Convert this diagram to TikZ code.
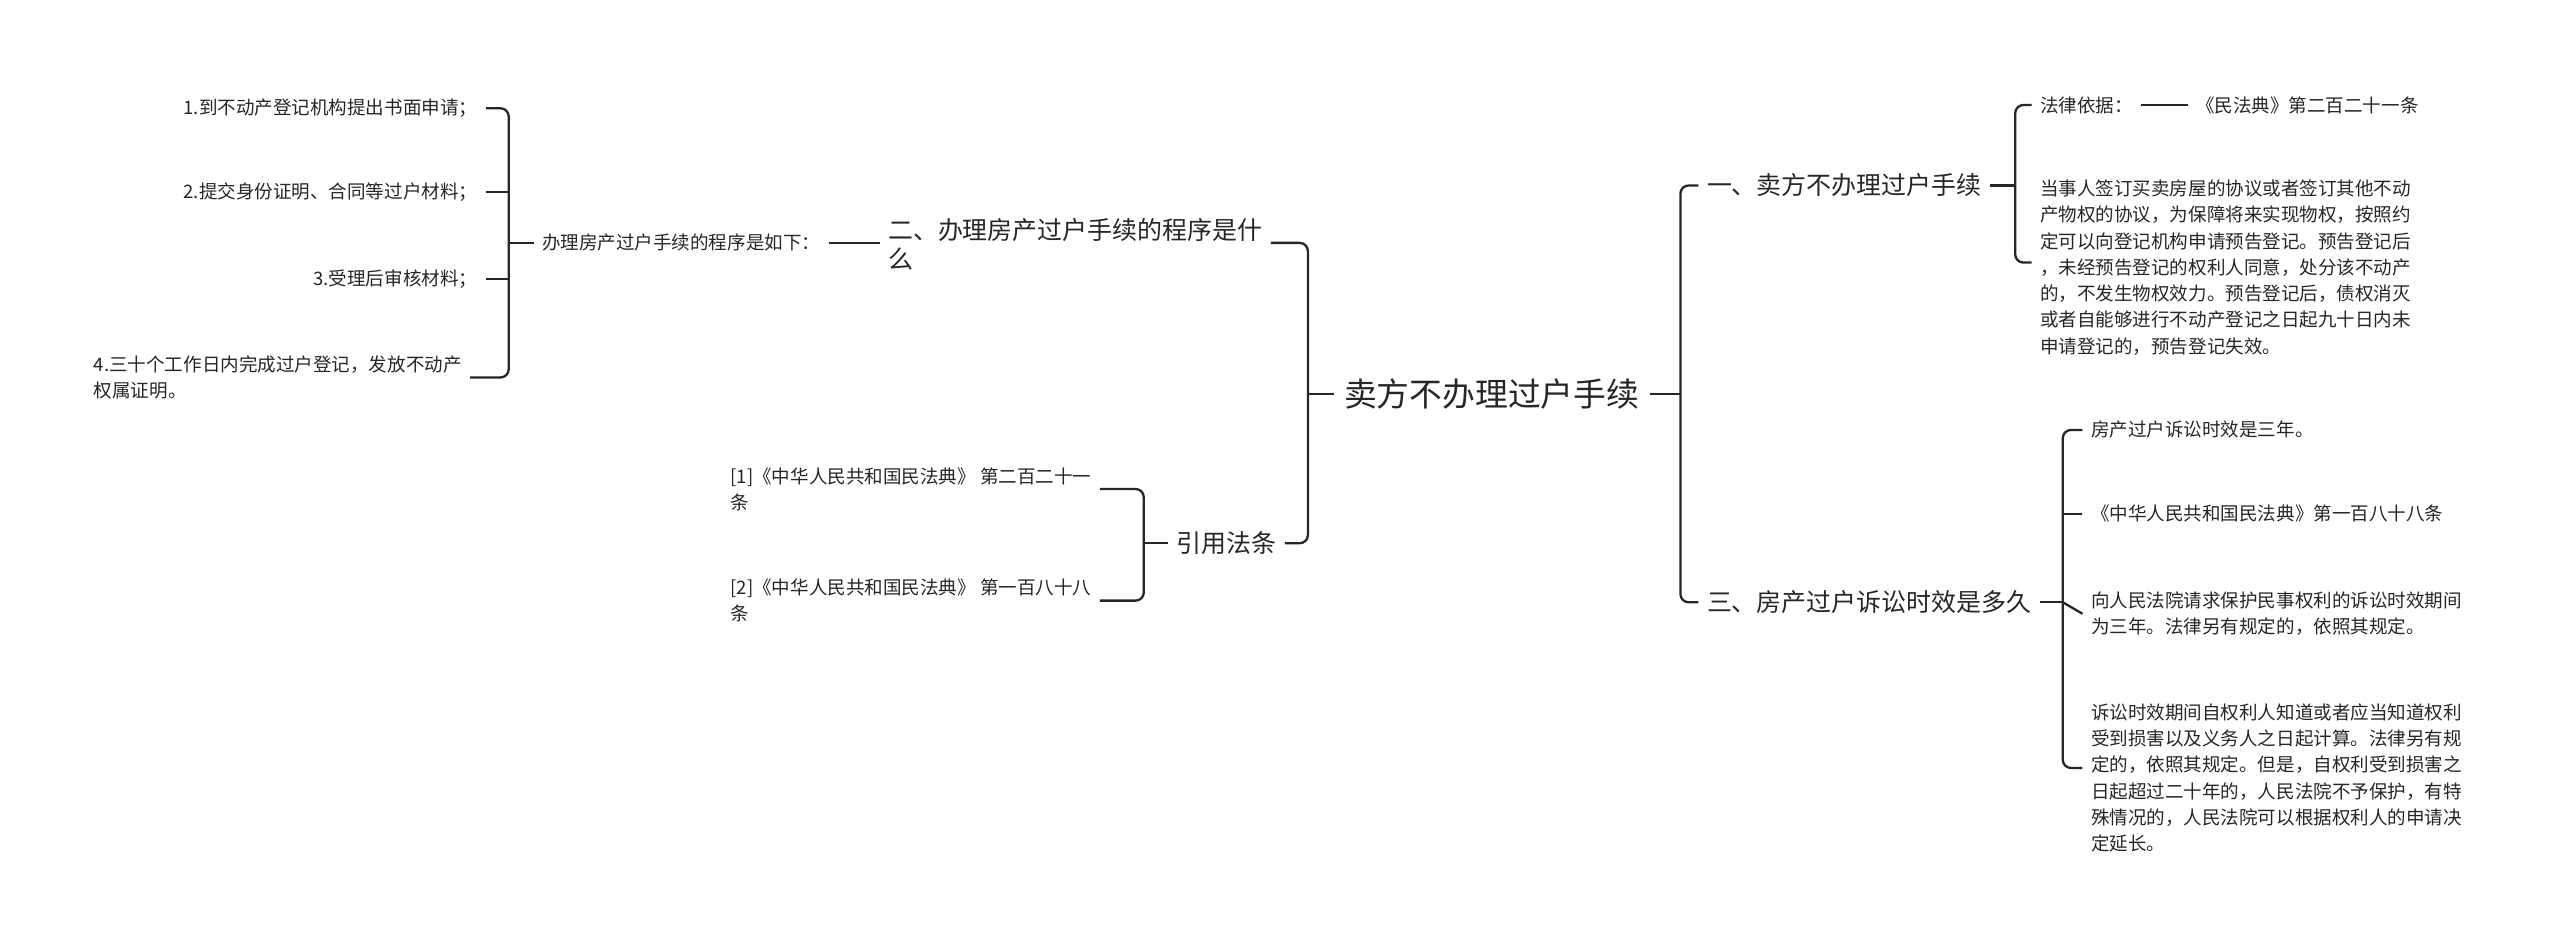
\documentclass[tikz,border=0pt]{standalone}
\usepackage{fontspec}
\setmainfont{Noto Sans CJK SC}
\begin{document}
\begin{tikzpicture}[x=1pt,y=-1pt,
  conn/.style={draw=black!85,line width=1.4pt,rounded corners=5pt},
  sm/.style={font=\fontsize{11.3}{16}\selectfont,inner xsep=5pt,inner ysep=1pt,align=left,text=black!85},
  md/.style={font=\fontsize{15.2}{18}\selectfont,inner xsep=5pt,inner ysep=1pt,align=left,text=black!85},
  lg/.style={font=\fontsize{20}{22}\selectfont,inner xsep=6pt,text=black!85}]
\useasboundingbox (0,0) rectangle (1560,571);
\node[lg] (root) at (909,240) {卖方不办理过户手续};
% left side
\node[md,anchor=west] (n2) at (536,149) {二、办理房产过户手续的程序是什\\么};
\node[sm,anchor=east] (p) at (505,148) {办理房产过户手续的程序是如下：};
\node[sm,anchor=east] (a1) at (296,66) {1.到不动产登记机构提出书面申请；};
\node[sm,anchor=east] (a2) at (296,117) {2.提交身份证明、合同等过户材料；};
\node[sm,anchor=east] (a3) at (296,170) {3.受理后审核材料；};
\node[sm,anchor=west] (a4) at (52,230) {4.三十个工作日内完成过户登记，发放不动产\\权属证明。};
\node[md,anchor=east] (ref) at (783,331) {引用法条};
\node[sm,anchor=west] (r1) at (440,298) {[1]《中华人民共和国民法典》 第二百二十一\\条};
\node[sm,anchor=west] (r2) at (440,366) {[2]《中华人民共和国民法典》 第一百八十八\\条};
% right side
\node[md,anchor=west] (n1) at (1035,113) {一、卖方不办理过户手续};
\node[md,anchor=west] (n3) at (1035,367) {三、房产过户诉讼时效是多久};
\node[sm,anchor=west] (b1) at (1238,64) {法律依据：};
\node[sm,anchor=west] (b1x) at (1333,64) {《民法典》第二百二十一条};
\node[sm,anchor=west] (b2) at (1238,163) {当事人签订买卖房屋的协议或者签订其他不动\\产物权的协议，为保障将来实现物权，按照约\\定可以向登记机构申请预告登记。预告登记后\\，未经预告登记的权利人同意，处分该不动产\\的，不发生物权效力。预告登记后，债权消灭\\或者自能够进行不动产登记之日起九十日内未\\申请登记的，预告登记失效。};
\node[sm,anchor=west] (c1) at (1269,262) {房产过户诉讼时效是三年。};
\node[sm,anchor=west] (c2) at (1269,313) {《中华人民共和国民法典》第一百八十八条};
\node[sm,anchor=west] (c3) at (1269,374) {向人民法院请求保护民事权利的诉讼时效期间\\为三年。法律另有规定的，依照其规定。};
\node[sm,anchor=west] (c4) at (1269,474) {诉讼时效期间自权利人知道或者应当知道权利\\受到损害以及义务人之日起计算。法律另有规\\定的，依照其规定。但是，自权利受到损害之\\日起超过二十年的，人民法院不予保护，有特\\殊情况的，人民法院可以根据权利人的申请决\\定延长。};
% root brackets
\draw[conn] (root.west) -- (797,240);
\draw[conn] (n2.east |- 0,148) -- (797,148) -- (797,331) -- (ref.east);
\draw[conn] (root.east) -- (1024,240);
\draw[conn] (n1.west) -- (1024,113) -- (1024,367) -- (n3.west);
% 二
\draw[conn] (p.east) -- (n2.west |- p.east);
\draw[conn] (p.west) -- (310,148);
\draw[conn] (a1.east) -- (310,66) -- (310,230) -- (a4.east |- 0,230);
\draw[conn] (a2.east) -- (310,117);
\draw[conn] (a3.east) -- (310,170);
% 引用
\draw[conn] (ref.west) -- (697,331);
\draw[conn] (r1.east) -- (697,298) -- (697,366) -- (r2.east);
% 一
\draw[conn] (n1.east) -- (1228,113);
\draw[conn] (b1.west) -- (1228,64) -- (1228,160) -- (b2.west |- 0,160);
\draw[conn] (b1.east) -- (b1x.west);
% 三
\draw[conn] (n3.east) -- (1257,367);
\draw[conn] (c1.west) -- (1257,262) -- (1257,468) -- (c4.west |- 0,468);
\draw[conn] (c2.west) -- (1257,313);
\draw[conn] (c3.west) -- (1257,367);
\end{tikzpicture}
\end{document}
